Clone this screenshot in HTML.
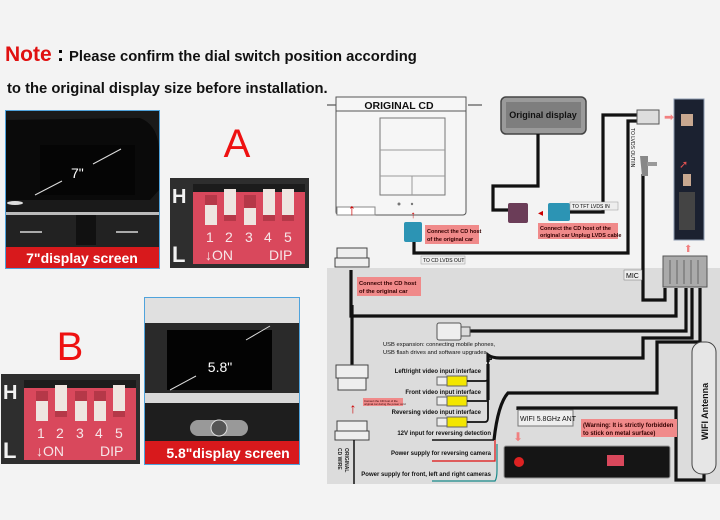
<!DOCTYPE html>
<html><head><meta charset="utf-8"><style>
html,body{margin:0;padding:0;background:#f3f3f3;}
svg{display:block;font-family:"Liberation Sans",Arial,sans-serif;}
</style></head><body>
<svg width="720" height="520" viewBox="0 0 720 520" xmlns="http://www.w3.org/2000/svg">
<rect width="720" height="520" fill="#f3f3f3"/>
<text x="5" y="61" font-size="21" font-weight="bold" fill="#e01010">Note</text>
<text x="57" y="61" font-size="21" font-weight="bold" fill="#000">:</text>
<text x="69" y="61" font-size="14.8" font-weight="bold" fill="#111">Please confirm the dial switch position according</text>
<text x="7" y="93" font-size="14.8" font-weight="bold" fill="#111">to the original display size before installation.</text>

<rect x="5" y="110" width="155" height="159" fill="#4fa3dc"/>
<rect x="6" y="111" width="153" height="157" fill="#1a1a1a"/>
<path d="M6 120 L140 118 Q158 125 159 150 L159 190 L150 200 L6 200Z" fill="#0a0a0a"/>
<rect x="40" y="145" width="95" height="50" fill="#050505"/>
<line x1="35" y1="195" x2="62" y2="181" stroke="#ddd" stroke-width="1"/>
<line x1="93" y1="164" x2="121" y2="149" stroke="#ddd" stroke-width="1"/>
<text x="71" y="178" font-size="14" fill="#fff">7"</text>
<ellipse cx="15" cy="203" rx="8" ry="2" fill="#ddd"/>
<rect x="6" y="212" width="153" height="3" fill="#bbb"/>
<rect x="6" y="215" width="153" height="32" fill="#222"/>
<rect x="76" y="215" width="20" height="30" fill="#111"/>
<rect x="20" y="231" width="22" height="2" fill="#aaa"/>
<rect x="116" y="231" width="22" height="2" fill="#aaa"/>
<rect x="6" y="247" width="153" height="21" fill="#d8191c"/>
<text x="82" y="263" font-size="14" font-weight="bold" fill="#fff" text-anchor="middle">7"display screen</text>

<text x="237" y="157" font-size="40" fill="#ee1111" text-anchor="middle">A</text>
<text x="70" y="360" font-size="40" fill="#ee1111" text-anchor="middle">B</text>

<g>
<rect x="170" y="178" width="139" height="90" fill="#2e2e2e"/>
<text x="172" y="203" font-size="20" fill="#f2f2f2" font-weight="bold">H</text>
<text x="172" y="262" font-size="22" fill="#f2f2f2" font-weight="bold">L</text>
<rect x="193" y="184" width="112" height="80" fill="#d9485c"/>
<rect x="193" y="184" width="112" height="8" fill="#1c1c1c"/>
<rect x="205" y="195" width="12" height="26" fill="#b53848"/>
<rect x="224" y="195" width="12" height="26" fill="#b53848"/>
<rect x="244" y="195" width="12" height="26" fill="#b53848"/>
<rect x="263" y="195" width="12" height="26" fill="#b53848"/>
<rect x="282" y="195" width="12" height="26" fill="#b53848"/>
<rect x="205" y="205" width="12" height="20" fill="#eee5e0"/>
<rect x="224" y="189" width="12" height="26" fill="#eee5e0"/>
<rect x="244" y="208" width="12" height="17" fill="#eee5e0"/>
<rect x="263" y="189" width="12" height="26" fill="#eee5e0"/>
<rect x="282" y="189" width="12" height="26" fill="#eee5e0"/>
<g font-size="14" fill="#f6e6e8">
<text x="206" y="242">1</text><text x="225" y="242">2</text><text x="245" y="242">3</text><text x="264" y="242">4</text><text x="284" y="242">5</text>
<text x="205" y="260">↓ON</text><text x="269" y="260">DIP</text>
</g>
</g>
<g transform="translate(-169,196)">
<rect x="170" y="178" width="139" height="90" fill="#2e2e2e"/>
<text x="172" y="203" font-size="20" fill="#f2f2f2" font-weight="bold">H</text>
<text x="172" y="262" font-size="22" fill="#f2f2f2" font-weight="bold">L</text>
<rect x="193" y="184" width="112" height="80" fill="#d9485c"/>
<rect x="193" y="184" width="112" height="8" fill="#1c1c1c"/>
<rect x="205" y="195" width="12" height="26" fill="#b53848"/>
<rect x="224" y="195" width="12" height="26" fill="#b53848"/>
<rect x="244" y="195" width="12" height="26" fill="#b53848"/>
<rect x="263" y="195" width="12" height="26" fill="#b53848"/>
<rect x="282" y="195" width="12" height="26" fill="#b53848"/>
<rect x="205" y="205" width="12" height="20" fill="#eee5e0"/>
<rect x="224" y="189" width="12" height="26" fill="#eee5e0"/>
<rect x="244" y="205" width="12" height="20" fill="#eee5e0"/>
<rect x="263" y="205" width="12" height="20" fill="#eee5e0"/>
<rect x="282" y="189" width="12" height="26" fill="#eee5e0"/>
<g font-size="14" fill="#f6e6e8">
<text x="206" y="242">1</text><text x="225" y="242">2</text><text x="245" y="242">3</text><text x="264" y="242">4</text><text x="284" y="242">5</text>
<text x="205" y="260">↓ON</text><text x="269" y="260">DIP</text>
</g>
</g>

<rect x="144" y="297" width="156" height="168" fill="#4fa3dc"/>
<rect x="145" y="298" width="154" height="166" fill="#c9c9c9"/>
<rect x="145" y="298" width="154" height="25" fill="#e0e0e0"/>
<rect x="145" y="323" width="154" height="70" fill="#2a2a2a"/>
<rect x="167" y="330" width="105" height="60" fill="#030303"/>
<line x1="170" y1="390" x2="196" y2="376" stroke="#ddd" stroke-width="1"/>
<line x1="246" y1="340" x2="270" y2="326" stroke="#ddd" stroke-width="1"/>
<text x="220" y="372" font-size="14" fill="#fff" text-anchor="middle">5.8"</text>
<rect x="145" y="393" width="154" height="10" fill="#d8d8d8"/>
<rect x="145" y="403" width="154" height="38" fill="#1e1e1e"/>
<rect x="190" y="420" width="58" height="16" rx="8" fill="#999"/>
<circle cx="219" cy="428" r="8" fill="#555" stroke="#ddd"/>
<rect x="145" y="441" width="154" height="23" fill="#d8191c"/>
<text x="228" y="458" font-size="14" font-weight="bold" fill="#fff" text-anchor="middle">5.8"display screen</text>

<rect x="327" y="268" width="393" height="216" fill="#dcdcdc"/>

<line x1="327" y1="105" x2="336" y2="105" stroke="#333"/>
<line x1="468" y1="105" x2="482" y2="105" stroke="#333"/>
<rect x="336" y="97" width="130" height="118" rx="3" fill="#f6f6f6" stroke="#555"/>
<rect x="336" y="97" width="130" height="14" fill="#f6f6f6" stroke="#555"/>
<text x="399" y="109" font-size="10.5" font-weight="bold" text-anchor="middle" fill="#111">ORIGINAL CD</text>
<rect x="380" y="118" width="65" height="77" fill="#f6f6f6" stroke="#777"/>
<line x1="380" y1="150" x2="445" y2="150" stroke="#999"/>
<line x1="380" y1="176" x2="445" y2="176" stroke="#999"/>
<line x1="412" y1="176" x2="412" y2="195" stroke="#999"/>
<rect x="337" y="207" width="38" height="8" fill="#fff" stroke="#888"/>
<circle cx="399" cy="204" r="1.5" fill="#777"/>
<circle cx="412" cy="204" r="1.2" fill="#777"/>

<rect x="501" y="97" width="85" height="37" rx="5" fill="#9a9a9a" stroke="#444" stroke-width="1.5"/>
<rect x="506" y="102" width="75" height="26" fill="#7e7e7e"/>
<text x="543" y="118" font-size="9" font-weight="bold" text-anchor="middle" fill="#111">Original display</text>

<g fill="none" stroke="#111" stroke-width="3.2">
<path d="M538 134 V186 H493 V210 H510"/>
<path d="M569 212 H603 V115 H637"/>
<path d="M637 121 H628 V253 H414 V240"/>
<path d="M643 174 V300 H665 V288"/>
<path d="M351 270 V316 H676 V288"/>
<path d="M352 305 V365"/>
<path d="M470 331 H686 V288"/>
<path d="M488 362 V355 Q492 358 500 358 H643 V338 H692 V288"/>
<path d="M488 400 V364"/>
<path d="M494 440 Q498 404 508 393 H657 V342 H700 V288"/>
<path d="M518 410 V408 H676 V480 H704 V470"/>
</g>

<rect x="508" y="203" width="20" height="20" rx="2" fill="#6b3d58"/>
<rect x="548" y="203" width="22" height="18" rx="2" fill="#2c94b4"/>
<text x="538" y="216" font-size="10" fill="#c00">◂</text>
<rect x="404" y="222" width="18" height="20" rx="2" fill="#2c94b4"/>
<text x="413" y="218" font-size="10" fill="#c00" text-anchor="middle">↑</text>
<rect x="637" y="110" width="22" height="14" fill="#ddd" stroke="#555"/>
<text x="664" y="121" font-size="12" fill="#f28080">➡</text>
<path d="M640 156 h8 v20 h-6 z" fill="#888"/>
<rect x="647" y="162" width="10" height="4" fill="#999"/>

<rect x="674" y="99" width="30" height="141" fill="#1b2130" stroke="#8e9bb0"/>
<rect x="681" y="114" width="12" height="12" fill="#c8a890"/>
<rect x="683" y="174" width="8" height="12" fill="#c8a890"/>
<rect x="679" y="192" width="16" height="38" fill="#444"/>
<text x="679" y="168" font-size="11" fill="#e05050">➚</text>
<text x="684" y="252" font-size="10" fill="#f28080">⬆</text>
<rect x="663" y="256" width="44" height="31" fill="#aaa" stroke="#555"/>
<g stroke="#666"><line x1="670" y1="260" x2="670" y2="284"/><line x1="677" y1="260" x2="677" y2="284"/><line x1="684" y1="260" x2="684" y2="284"/><line x1="691" y1="260" x2="691" y2="284"/><line x1="698" y1="260" x2="698" y2="284"/></g>

<rect x="570" y="202" width="48" height="8" fill="#eee" stroke="#999" stroke-width=".5"/>
<text x="572" y="208" font-size="5">TO TFT LVDS IN</text>
<rect x="421" y="256" width="44" height="8" fill="#eee" stroke="#999" stroke-width=".5"/>
<text x="423" y="262" font-size="5">TO CD LVDS OUT</text>
<rect x="624" y="270" width="18" height="10" fill="#eee" stroke="#777" stroke-width=".5"/>
<text x="626" y="278" font-size="7">MIC</text>
<text transform="translate(631,128) rotate(90)" font-size="5" fill="#111">TO LVDS OUT/IN</text>

<rect x="425" y="225" width="54" height="19" fill="#f08a8a"/>
<text x="427" y="233" font-size="5.5" font-weight="bold" fill="#300">Connect the CD host</text>
<text x="427" y="241" font-size="5.5" font-weight="bold" fill="#300">of the original car</text>
<rect x="538" y="223" width="80" height="16" fill="#f08a8a"/>
<text x="540" y="230" font-size="5.5" font-weight="bold" fill="#300">Connect the CD host of the</text>
<text x="540" y="237" font-size="5.5" font-weight="bold" fill="#300">original car Unplug LVDS cable</text>
<rect x="357" y="277" width="64" height="19" fill="#f08a8a"/>
<text x="359" y="285" font-size="5.8" font-weight="bold" fill="#300">Connect the CD host</text>
<text x="359" y="293" font-size="5.8" font-weight="bold" fill="#300">of the original car</text>
<rect x="363" y="398" width="40" height="8" fill="#f08a8a"/>
<text x="364" y="402" font-size="2.8" fill="#300">Connect the CD host of the</text>
<text x="364" y="405" font-size="2.8" fill="#300">original car during the power cord</text>

<text x="352" y="215" font-size="16" fill="#c00" text-anchor="middle">↑</text>
<rect x="337" y="248" width="30" height="10" fill="#eee" stroke="#444"/>
<rect x="335" y="258" width="34" height="9" fill="#eee" stroke="#444"/>
<rect x="336" y="365" width="32" height="13" fill="#eee" stroke="#444"/>
<rect x="338" y="378" width="28" height="12" fill="#eee" stroke="#444"/>
<text x="353" y="413" font-size="14" fill="#c00" text-anchor="middle">↑</text>
<rect x="337" y="421" width="30" height="10" fill="#eee" stroke="#444"/>
<rect x="335" y="431" width="34" height="9" fill="#eee" stroke="#444"/>
<path d="M354 440 V484" stroke="#111" stroke-width="1.5"/>
<text transform="translate(345,448) rotate(90)" font-size="5" font-weight="bold" fill="#222">ORIGINAL</text>
<text transform="translate(338,448) rotate(90)" font-size="5" font-weight="bold" fill="#222">CD WIRE</text>

<rect x="437" y="323" width="24" height="17" rx="2" fill="#eee" stroke="#555"/>
<rect x="461" y="327" width="9" height="9" fill="#ddd" stroke="#555"/>
<text x="383" y="346" font-size="5.8" fill="#111">USB expansion: connecting mobile phones,</text>
<text x="383" y="354" font-size="5.8" fill="#111">USB flash drives and software upgrades</text>

<g font-size="6" font-weight="bold" fill="#111" text-anchor="end">
<text x="481" y="373">Left/right video input interface</text>
<text x="481" y="394">Front video input interface</text>
<text x="481" y="414">Reversing video input interface</text>
<text x="491" y="435">12V input for reversing detection</text>
<text x="491" y="455">Power supply for reversing camera</text>
<text x="491" y="476">Power supply for front, left and right cameras</text>
</g>
<g>
<rect x="437" y="377" width="10" height="8" fill="#eee" stroke="#666"/><rect x="447" y="376" width="20" height="10" fill="#f3e600" stroke="#666"/>
<rect x="437" y="397" width="10" height="8" fill="#eee" stroke="#666"/><rect x="447" y="396" width="20" height="10" fill="#f3e600" stroke="#666"/>
<rect x="437" y="418" width="10" height="8" fill="#eee" stroke="#666"/><rect x="447" y="417" width="20" height="10" fill="#f3e600" stroke="#666"/>
</g>
<path d="M467 381 H485 Q488 381 488 378 V362 Q488 359 492 359 M467 401 H488 M467 422 H485 Q488 422 488 418 V400" fill="none" stroke="#111" stroke-width="1.8"/>
<path d="M432 440 H494" stroke="#111" stroke-width="1.5"/>
<path d="M432 461 H495 V440" fill="none" stroke="#e01010" stroke-width="1.2"/>
<path d="M432 481 H495 Q497 478 497 470 V444" fill="none" stroke="#1a8a8a" stroke-width="1.2"/>

<rect x="518" y="410" width="55" height="16" fill="#eee" stroke="#777"/>
<text x="520" y="421" font-size="7" fill="#111">WIFI 5.8GHz ANT</text>
<rect x="581" y="419" width="96" height="18" fill="#f08a8a"/>
<text x="583" y="427" font-size="6" font-weight="bold" fill="#300">(Warning: It is strictly forbidden</text>
<text x="583" y="435" font-size="6" font-weight="bold" fill="#300">to stick on metal surface)</text>
<text x="518" y="441" font-size="12" fill="#f08080" text-anchor="middle">⬇</text>
<rect x="504" y="446" width="166" height="32" rx="2" fill="#151515" stroke="#999"/>
<circle cx="519" cy="462" r="5" fill="#d22"/>
<rect x="607" y="455" width="17" height="11" fill="#d9485c"/>
<rect x="692" y="342" width="24" height="132" rx="10" fill="#e6e6e6" stroke="#444"/>
<text transform="translate(708,440) rotate(-90)" font-size="9" font-weight="bold" fill="#111">WIFI Antenna</text>
</svg>
</body></html>
